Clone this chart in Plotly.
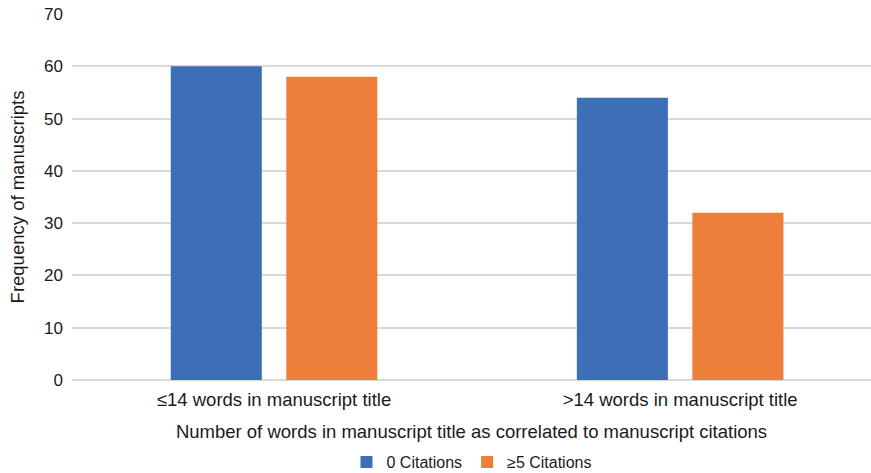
import plotly.graph_objects as go

categories = ["≤14 words in manuscript title", ">14 words in manuscript title"]
series_names = ["0 Citations", "≥5 Citations"]
zero_citations = [60, 54]
five_plus_citations = [58, 32]
y_ticks = [0, 10, 20, 30, 40, 50, 60, 70]

colors = ["#3D6FB7", "#ED7F3B"]
font_family = "Liberation Sans, Arial, sans-serif"

fig = go.Figure()
for name, vals, col in zip(series_names, [zero_citations, five_plus_citations], colors):
    fig.add_trace(go.Bar(x=categories, y=vals, name=name, marker_color=col,
                         marker_line_width=0))

fig.update_layout(
    width=871, height=473,
    margin=dict(l=72, r=0, t=14, b=93, autoexpand=False),
    paper_bgcolor="white", plot_bgcolor="white",
    barmode="group", bargap=0.431, bargroupgap=0.212,
    font=dict(family=font_family, color="#1a1a1a"),
    showlegend=True,
    legend=dict(orientation="h", x=0.5, xanchor="center", yref="paper",
                y=-0.178, yanchor="top", font=dict(size=16),
                itemwidth=30, tracegroupgap=0),
)
fig.update_xaxes(
    type="category", range=[-0.4975, 1.47], automargin=True,
    showgrid=False, showline=False, ticks="",
    tickfont=dict(size=18.5), ticklabelstandoff=6,
    title=dict(text="Number of words in manuscript title as correlated to manuscript citations",
               font=dict(size=18.5), standoff=16),
)
fig.update_yaxes(
    range=[0, 70], tickvals=y_ticks, showgrid=True, gridcolor="#D9D9D9", gridwidth=1.5,
    zeroline=True, zerolinecolor="#D9D9D9", zerolinewidth=1.5, showline=False,
    automargin=True,
    tickfont=dict(size=17), ticklabelstandoff=8,
    title=dict(text="Frequency of manuscripts", font=dict(size=18.5), standoff=14),
)
fig.write_html("out.html")
